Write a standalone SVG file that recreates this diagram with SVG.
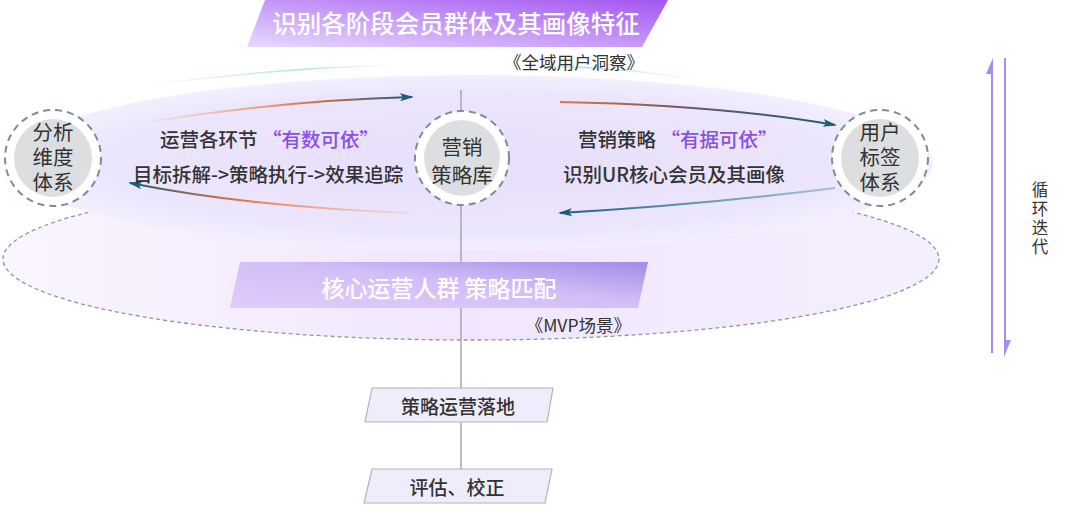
<svg xmlns="http://www.w3.org/2000/svg" width="1080" height="511" viewBox="0 0 1080 511">
<style>
text{font-family:"Noto Sans CJK SC","Noto Sans",sans-serif;}
.dark{fill:#333;}
.ring{fill:#fff;stroke:#7f8b97;stroke-width:2;stroke-dasharray:7 5;}
.core{fill:#dcdedf;}
.ct{font-size:20.5px;fill:#333;text-anchor:middle;font-family:"Liberation Sans","Noto Sans CJK SC",sans-serif;}
.lbl{font-size:19.5px;fill:#333;font-weight:500;}
.hl{fill:#8a4fe2;}
.box{fill:#efecfc;stroke:#b3b3b8;stroke-width:1.2;}
.bt{font-size:19px;fill:#333;text-anchor:middle;font-weight:500;}
.arr{fill:none;stroke-width:2;marker-end:url(#ah);}
.cyc{stroke:#a78cf0;stroke-width:2;fill:none;}
.vt{font-size:16.5px;fill:#333;writing-mode:vertical-rl;letter-spacing:2.5px;}
</style>
<defs>
<linearGradient id="g1" x1="0" y1="1" x2="1" y2="0">
<stop offset="0" stop-color="#e8dafd"/>
<stop offset="1" stop-color="#a355f1"/>
</linearGradient>
<linearGradient id="g2" x1="0" y1="1" x2="1" y2="0">
<stop offset="0" stop-color="#e2ccfb"/>
<stop offset="0.55" stop-color="#d3bdf7"/>
<stop offset="1" stop-color="#a28be6"/>
</linearGradient>
<radialGradient id="ue" cx="0.5" cy="0.5" r="0.5">
<stop offset="0" stop-color="#e7defb"/>
<stop offset="0.8" stop-color="#ece6fc"/>
<stop offset="1" stop-color="#f3effd"/>
</radialGradient>
<linearGradient id="le" x1="0" y1="0" x2="1" y2="0">
<stop offset="0" stop-color="#faf5fe"/>
<stop offset="0.5" stop-color="#f1e6fd"/>
<stop offset="1" stop-color="#f5effd"/>
</linearGradient>
<linearGradient id="a1" gradientUnits="userSpaceOnUse" x1="150" y1="0" x2="410" y2="0">
<stop offset="0" stop-color="#f5b89c" stop-opacity="0.2"/>
<stop offset="0.6" stop-color="#e8743e"/>
<stop offset="1" stop-color="#1e5e7c"/>
</linearGradient>
<linearGradient id="a2" gradientUnits="userSpaceOnUse" x1="130" y1="0" x2="410" y2="0">
<stop offset="0" stop-color="#1e5e7c"/>
<stop offset="0.4" stop-color="#e8743e"/>
<stop offset="1" stop-color="#f5b89c" stop-opacity="0.3"/>
</linearGradient>
<linearGradient id="a3" gradientUnits="userSpaceOnUse" x1="560" y1="0" x2="835" y2="0">
<stop offset="0" stop-color="#e8743e"/>
<stop offset="0.45" stop-color="#6b5a58"/>
<stop offset="1" stop-color="#1e5e7c"/>
</linearGradient>
<linearGradient id="a4" gradientUnits="userSpaceOnUse" x1="560" y1="0" x2="835" y2="0">
<stop offset="0" stop-color="#1e5e7c"/>
<stop offset="1" stop-color="#6fa3c0" stop-opacity="0.6"/>
</linearGradient>
<linearGradient id="cy" gradientUnits="userSpaceOnUse" x1="140" y1="0" x2="700" y2="0">
<stop offset="0" stop-color="#bfeaf5" stop-opacity="0"/>
<stop offset="0.3" stop-color="#a9e0f0"/>
<stop offset="0.5" stop-color="#ffffff" stop-opacity="0"/>
<stop offset="0.8" stop-color="#a9e0f0"/>
<stop offset="1" stop-color="#bfeaf5" stop-opacity="0"/>
</linearGradient>
<marker id="ah" viewBox="0 0 14 8" refX="12" refY="4" markerWidth="14" markerHeight="8" markerUnits="userSpaceOnUse" orient="auto">
<path d="M0,0 L14,4 L0,8 L3,4 Z" fill="#1e5e7c"/>
</marker>
</defs>

<g id="background">
<ellipse cx="471" cy="259" rx="468" ry="81" fill="url(#le)" stroke="#8d96a3" stroke-width="1.3" stroke-dasharray="4 3"/>
<ellipse cx="471" cy="163" rx="462" ry="88" fill="url(#ue)"/>
<path d="M155,84 Q300,66 410,65 M540,66 Q640,68 705,82" fill="none" stroke="url(#cy)" stroke-width="1.5"/>
</g>

<g id="banner-top">
<polygon points="265,0 668,0 642,47 247,47" fill="url(#g1)"/>
<text x="456" y="33" font-size="24.5" fill="#fff" text-anchor="middle" font-weight="500">识别各阶段会员群体及其画像特征</text>
<text x="644" y="69" font-size="17.5" class="dark" text-anchor="end">《全域用户洞察》</text>
</g>

<g id="connectors">
<line x1="461" y1="90" x2="461" y2="469" stroke="#9c9c9c" stroke-width="1.3"/>
<path class="arr" d="M155,121 Q290,100 412,97" stroke="url(#a1)"/>
<path class="arr" d="M410,213 Q250,207 130,183" stroke="url(#a2)"/>
<path class="arr" d="M560,102 Q720,105 835,125" stroke="url(#a3)"/>
<path class="arr" d="M835,188 Q700,205 560,213" stroke="url(#a4)"/>
</g>

<g id="banner-mid">
<polygon points="240,262 648,262 638,308 230,308" fill="url(#g2)"/>
<text x="439" y="297" font-size="23" fill="#fff" text-anchor="middle" font-weight="500">核心运营人群 策略匹配</text>
<text x="631" y="332" font-size="17.5" class="dark" text-anchor="end">《MVP场景》</text>
</g>

<g id="node-analysis">
<circle cx="53" cy="158" r="48" class="ring"/>
<circle cx="53" cy="158" r="39" class="core"/>
<text class="ct" x="53" y="140">分析</text>
<text class="ct" x="53" y="165">维度</text>
<text class="ct" x="53" y="190">体系</text>
</g>

<g id="node-library">
<circle cx="462" cy="158" r="47" class="ring"/>
<circle cx="462" cy="158" r="38" class="core"/>
<text class="ct" x="462" y="155">营销</text>
<text class="ct" x="462" y="183">策略库</text>
</g>

<g id="node-tags">
<circle cx="880" cy="158" r="48" class="ring"/>
<circle cx="880" cy="158" r="39" class="core"/>
<text class="ct" x="880" y="140">用户</text>
<text class="ct" x="880" y="165">标签</text>
<text class="ct" x="880" y="190">体系</text>
</g>

<g id="labels">
<text class="lbl" x="160" y="147">运营各环节 <tspan class="hl">“有数可依”</tspan></text>
<text class="lbl" x="133" y="182">目标拆解-&gt;策略执行-&gt;效果追踪</text>
<text class="lbl" x="578" y="147">营销策略 <tspan class="hl">“有据可依”</tspan></text>
<text class="lbl" x="563" y="182">识别UR核心会员及其画像</text>
</g>

<g id="node-landing">
<polygon points="372,388 553,388 547,422 365,422" class="box"/>
<text class="bt" x="458" y="414">策略运营落地</text>
</g>

<g id="node-eval">
<polygon points="372,469 552,469 545,503 364,503" class="box"/>
<text class="bt" x="457" y="495">评估、校正</text>
</g>

<g id="cycle">
<line x1="992" y1="62" x2="992" y2="353" class="cyc"/>
<polygon points="993,58 993,74 986,74" fill="#a78cf0"/>
<line x1="1005" y1="58" x2="1005" y2="352" class="cyc"/>
<polygon points="1004,357 1004,340 1011,340" fill="#a78cf0"/>
<text class="vt" x="1040" y="181">循环迭代</text>
</g>
</svg>
